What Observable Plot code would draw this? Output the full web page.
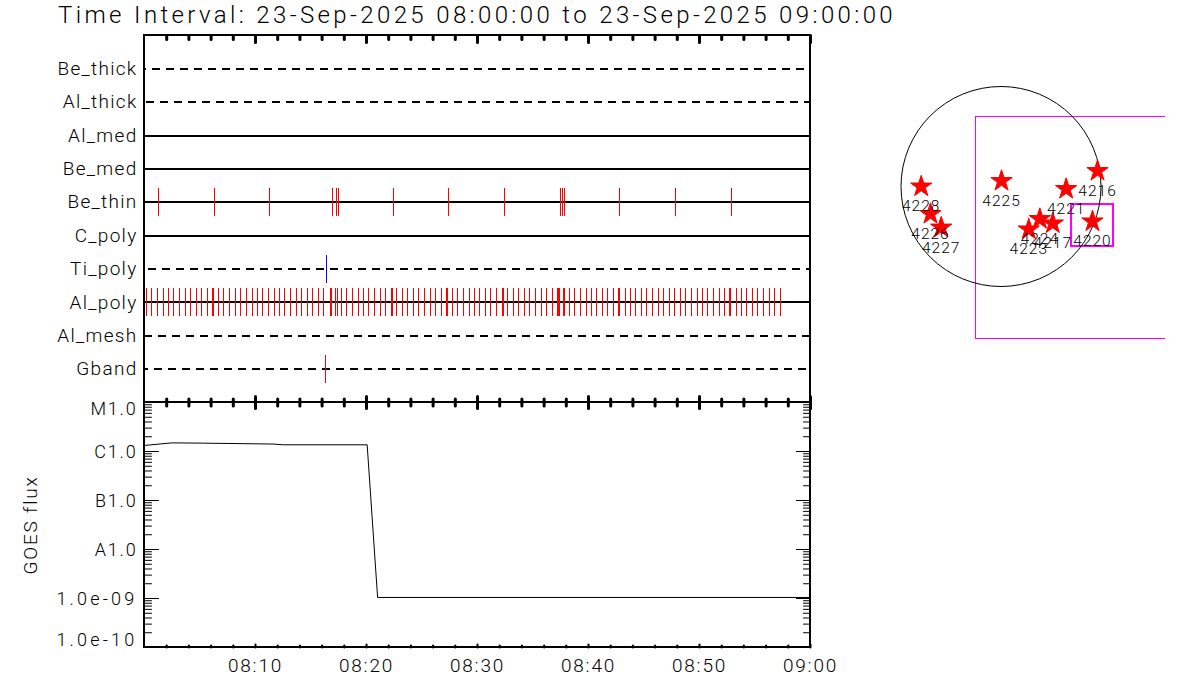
<!DOCTYPE html>
<html><head><meta charset="utf-8">
<script src="https://cdn.jsdelivr.net/npm/d3@7"></script>
<script src="https://cdn.jsdelivr.net/npm/@observablehq/plot@0.6"></script>
<style>
html,body{margin:0;padding:0;background:#fff}
#page{position:relative;width:1200px;height:700px;overflow:hidden;background:#fff}
#page svg{position:absolute;overflow:visible}
#title{position:absolute;left:58px;top:1px;white-space:nowrap;font:300 24px Roboto,sans-serif;letter-spacing:3.37px;color:#000}
</style></head><body>
<div id="page"><div id="title">Time Interval: 23-Sep-2025 08:00:00 to 23-Sep-2025 09:00:00</div></div>
<script>
const rowNames = ["Be_thick","Al_thick","Al_med","Be_med","Be_thin","C_poly","Ti_poly","Al_poly","Al_mesh","Gband"];
const solidRows = ["Al_med","Be_med","Be_thin","C_poly","Al_poly"];
const dashedRows = ["Be_thick","Al_thick","Ti_poly","Al_mesh","Gband"];
const dashPhases = [6,12,10,0,4];
// event times in minutes after 08:00
const beThinTimes = [1.26,6.31,11.26,16.94,17.30,17.48,22.43,27.39,32.43,37.48,37.66,37.84,42.79,47.84,52.88];
const alPolyTimes = [0.18,0.63,1.17,1.71,2.16,2.61,3.15,3.69,4.14,4.68,5.14,5.68,6.13,6.22,6.67,7.12,7.66,8.20,8.65,9.19,9.73,10.18,10.63,11.17,11.71,12.16,12.61,13.15,13.69,14.14,14.68,15.14,15.68,16.13,16.76,16.85,17.21,17.39,17.75,18.20,18.74,19.28,19.73,20.18,20.72,21.26,21.71,22.25,22.34,22.70,23.24,23.69,24.23,24.68,25.23,25.77,26.22,26.76,27.21,27.30,27.75,28.20,28.74,29.28,29.73,30.18,30.72,31.17,31.71,32.25,32.34,32.70,33.24,33.69,34.23,34.68,35.23,35.77,36.22,36.76,37.21,37.30,37.39,37.75,37.84,38.29,38.74,39.28,39.82,40.27,40.72,41.26,41.71,42.25,42.70,42.79,43.33,43.78,44.23,44.77,45.23,45.77,46.31,46.76,47.30,47.75,48.29,48.74,49.28,49.82,50.27,50.72,51.26,51.80,52.25,52.70,52.79,53.33,53.78,54.23,54.77,55.23,55.77,56.31,56.76,57.30];
const tiPolyTimes = [16.40];
const gbandTimes = [16.31];
const majorTimes = [10,20,30,40,50,60];
const minorTimes = [2,4,6,8,12,14,16,18,22,24,26,28,32,34,36,38,42,44,46,48,52,54,56,58];
const timeLabels = ["08:10","08:20","08:30","08:40","08:50","09:00"];
// GOES light curve
const goesTimes = [0,2.5,5.3,11.6,12.5,20.06,21.0,60];
const goesFlux = [1.33e-6,1.5e-6,1.48e-6,1.42e-6,1.37e-6,1.37e-6,1.05e-9,1.05e-9];
const decades = [1e-5,1e-6,1e-7,1e-8,1e-9,1e-10];
const decadeLabels = ["M1.0","C1.0","B1.0","A1.0","1.0e-09","1.0e-10"];
const minorFlux = [2e-6,3e-6,4e-6,5e-6,6e-6,7e-6,8e-6,9e-6,2e-7,3e-7,4e-7,5e-7,6e-7,7e-7,8e-7,9e-7,2e-8,3e-8,4e-8,5e-8,6e-8,7e-8,8e-8,9e-8,2e-9,3e-9,4e-9,5e-9,6e-9,7e-9,8e-9,9e-9,2e-10,3e-10,4e-10,5e-10,6e-10,7e-10,8e-10,9e-10];
// solar map, arcsec
const arNames = ["4216","4228","4225","4221","4220","4226","4227","4224","4217","4223"];
const arX = [917,-758,5,619,869,-670,-568,369,492,264];
const arY = [147,0,52,-24,-332,-261,-390,-309,-351,-408];
const fovBig = [-237.5,3000,665,-1444];
const fovSmall = [670,1064,-171,-570];
const sunRadius = 950;

const font = 'Roboto, sans-serif';
const page = document.getElementById("page");
const tickShape = {draw(c,l){c.moveTo(0,0);c.lineTo(0,-l);}};
const xTicks = (data,anchor,vAnchor,len,w) => Plot.vectorX(data,{frameAnchor:vAnchor,anchor,length:len,rotate:vAnchor==="top"?180:0,shape:tickShape,stroke:"black",strokeWidth:w});
const xScale = {domain:[0,60],axis:null};
const crisp = {shapeRendering:"crispEdges"};
const frame = () => Plot.frame({stroke:"black",strokeWidth:2,dx:-0.5,dy:-0.5,...crisp});

function place(svg,left,top){svg.style.left=left+"px";svg.style.top=top+"px";page.appendChild(svg);return svg;}

const rows = [
  ["Be_thin",beThinTimes,"#ff0000"],["Ti_poly",tiPolyTimes,"#0000ff"],["Al_poly",alPolyTimes,"#ff0000"],["Gband",gbandTimes,"#ff0000"]
];

place(Plot.plot({
  width:830,height:410,marginLeft:144,marginRight:20,marginTop:35,marginBottom:8,
  style:{background:"transparent",fontFamily:font,fontWeight:300,letterSpacing:"1.3px",color:"black"},
  x:xScale,
  y:{type:"band",domain:rowNames,paddingInner:0.163,paddingOuter:0.5815,align:0.5,round:false,label:null},
  marks:[
    Plot.ruleY(solidRows,{y:d=>d,stroke:"black",strokeWidth:2,...crisp}),
    ...dashedRows.map((name,i)=>Plot.ruleY([name],{y:d=>d,stroke:"black",strokeWidth:2,strokeDasharray:"8,6",strokeDashoffset:dashPhases[i],...crisp})),
    ...rows.map(([name,times,color])=>Plot.tickX(times,{x:d=>d,y:()=>name,stroke:color,strokeWidth:1,strokeOpacity:1,...crisp})),
    frame(),
    xTicks(minorTimes,"start","top",4,3),
    xTicks(majorTimes,"start","top",7,3),
    xTicks(minorTimes,"middle","bottom",7,3),
    xTicks(majorTimes,"middle","bottom",12,3),
    Plot.axisY({anchor:"left",tickSize:0,tickPadding:7,fontSize:19,label:null,stroke:null})
  ]
}),0,0);

const goes = goesTimes.map((t,i)=>({t,f:goesFlux[i]}));
const yTick = (data,frameAnchor,rotate,len)=>Plot.vectorY(data,{frameAnchor,rotate,anchor:"start",length:len,shape:tickShape,stroke:"black",strokeWidth:1});
const labelled = decades.map((v,i)=>({v,s:decadeLabels[i]}));
const yLab = (data,dy)=>Plot.text(data,{y:"v",text:"s",frameAnchor:"left",textAnchor:"end",dx:-7,dy,fontSize:18});

const lower = place(Plot.plot({
  width:830,height:300,marginLeft:144,marginRight:20,marginTop:2,marginBottom:53,
  style:{background:"transparent",fontFamily:font,fontWeight:300,letterSpacing:"1.8px",color:"black"},
  x:xScale,
  y:{type:"log",base:10,domain:[1e-10,1e-5],axis:null},
  marks:[
    Plot.line(goes,{x:"t",y:"f",stroke:"black",strokeWidth:1,clip:true}),
    frame(),
    xTicks(minorTimes,"start","bottom",2,2),
    xTicks(majorTimes,"start","bottom",3,2),
    yTick(minorFlux,"left",90,7), yTick(decades,"left",90,14),
    yTick(minorFlux,"right",-90,7), yTick(decades,"right",-90,14),
    yLab(labelled.slice(0,1),7), yLab(labelled.slice(1,5),1), yLab(labelled.slice(5),-7),
    Plot.axisX(majorTimes,{anchor:"bottom",tickSize:0,tickPadding:11,fontSize:19,label:null,stroke:null,
      tickFormat:(d,i)=>timeLabels[i]}),
    Plot.text(["GOES flux"],{frameAnchor:"left",textAnchor:"middle",rotate:-90,dx:-114,fontSize:19})
  ]
}),0,400);
// the exponent labels run wider in the reference (long dash)
d3.select(lower).selectAll("text").filter(function(){return /e-/.test(this.textContent);}).style("letter-spacing","3.2px");

const ars = arNames.map((n,i)=>({n,x:arX[i],y:arY[i]}));
const magenta = "#ff00ff";
place(Plot.plot({
  width:285,height:290,margin:0,
  style:{background:"transparent",fontFamily:font,fontWeight:300,letterSpacing:"1px",color:"black",overflow:"visible"},
  x:{domain:[-1144.75,1562.75],axis:null},
  y:{domain:[-1558,1197],axis:null},
  r:{type:"linear",domain:[0,sunRadius],range:[0,100]},
  marks:[
    Plot.rect([fovBig],{x1:d=>d[0],x2:d=>d[1],y1:d=>d[2],y2:d=>d[3],fill:"none",stroke:magenta,strokeWidth:1,clip:true,...crisp}),
    Plot.rect([fovSmall],{x1:d=>d[0],x2:d=>d[1],y1:d=>d[2],y2:d=>d[3],fill:"none",stroke:magenta,strokeWidth:2,...crisp}),
    Plot.dot([0],{x:()=>0,y:()=>0,r:()=>sunRadius,fill:"none",stroke:"black",strokeWidth:1}),
    Plot.dot(ars,{x:"x",y:"y",symbol:"star",r:6.7,fill:"#ff0000",stroke:"#ff0000",strokeWidth:1}),
    Plot.text(ars,{x:"x",y:"y",text:"n",dy:20,fontSize:15.5,fill:"black"})
  ]
}),880,60);
</script>
</body></html>
